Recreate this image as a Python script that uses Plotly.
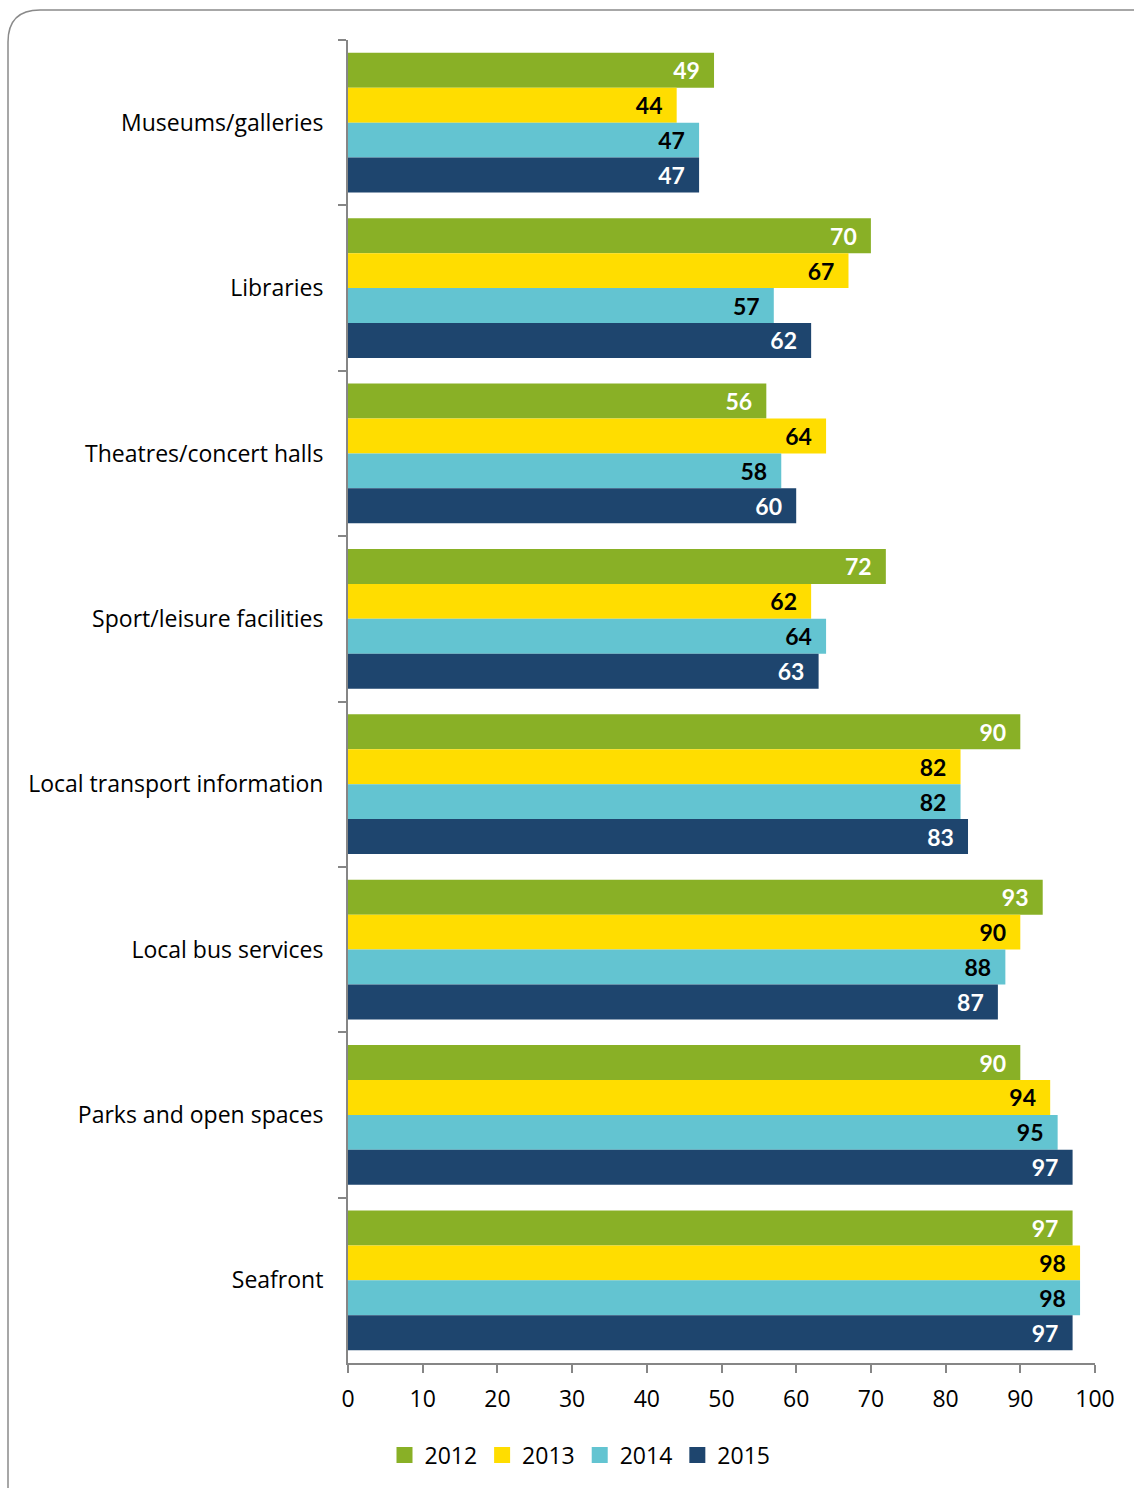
import plotly.graph_objects as go

# Satisfaction with local services (%), by year
categories = [
    "Museums/galleries",
    "Libraries",
    "Theatres/concert halls",
    "Sport/leisure facilities",
    "Local transport information",
    "Local bus services",
    "Parks and open spaces",
    "Seafront",
]
years = ["2012", "2013", "2014", "2015"]
values_2012 = [49, 70, 56, 72, 90, 93, 90, 97]
values_2013 = [44, 67, 64, 62, 82, 90, 94, 98]
values_2014 = [47, 57, 58, 64, 82, 88, 95, 98]
values_2015 = [47, 62, 60, 63, 83, 87, 97, 97]
x_ticks = [0, 10, 20, 30, 40, 50, 60, 70, 80, 90, 100]

series = [values_2012, values_2013, values_2014, values_2015]
bar_colors = ["#89B026", "#FFDD00", "#63C4D1", "#1E456E"]
label_colors = ["#FFFFFF", "#000000", "#000000", "#FFFFFF"]

FONT = "Open Sans, Calibri, Carlito, sans-serif"
LABEL_FONT = "Lato, Calibri, Carlito, sans-serif"

fig = go.Figure()
for year, vals, col, lcol in zip(years, series, bar_colors, label_colors):
    fig.add_trace(go.Bar(
        name=year,
        y=categories,
        x=vals,
        orientation="h",
        marker=dict(color=col, line=dict(width=0)),
        text=vals,
        texttemplate="%{x}&nbsp;&nbsp;",
        textposition="inside",
        insidetextanchor="end",
        textangle=0,
        textfont=dict(family=LABEL_FONT, size=23, color=lcol, weight="bold"),
        cliponaxis=False,
        hoverinfo="skip",
        showlegend=False,
    ))

# legend entries drawn as square swatches
for year, col in zip(years, bar_colors):
    fig.add_trace(go.Scatter(
        name=year,
        x=[None],
        y=[None],
        mode="markers",
        marker=dict(symbol="square", size=16, color=col),
        hoverinfo="skip",
        showlegend=True,
    ))

# plot-area geometry in pixels, used to place the outer rounded frame
W, H = 1134, 1488
ml, mr, mt, mb = 348, 39, 40, 125
pw, ph = W - ml - mr, H - mt - mb

def px(x):
    return (x - ml) / pw

def py(y):
    return (H - mb - y) / ph

r = 32
frame = (
    f"M {px(8)},{py(1500)} "
    f"L {px(8)},{py(10 + r)} "
    f"Q {px(8)},{py(10)} {px(8 + r)},{py(10)} "
    f"L {px(1150)},{py(10)}"
)

fig.update_layout(
    width=W,
    height=H,
    margin=dict(l=ml, r=mr, t=mt, b=mb, pad=0),
    paper_bgcolor="white",
    plot_bgcolor="white",
    barmode="group",
    bargap=0.155,
    bargroupgap=0,
    font=dict(family=FONT, size=23, color="#000000"),
    showlegend=True,
    legend=dict(
        orientation="h",
        x=px(580), xanchor="center",
        y=py(1455), yanchor="middle",
        font=dict(family=FONT, size=23, color="#000000"),
        itemwidth=30,
        tracegroupgap=0,
        traceorder="normal",
    ),
    shapes=[dict(
        type="path", xref="paper", yref="paper", path=frame,
        line=dict(color="#8A8A8A", width=1.5), layer="below",
    )],
)

fig.update_xaxes(
    range=[0, 100],
    tickvals=x_ticks,
    ticktext=[str(t) for t in x_ticks],
    showgrid=False,
    zeroline=False,
    showline=True,
    linecolor="#868686",
    linewidth=2,
    ticks="outside",
    ticklen=8,
    tickwidth=2,
    tickcolor="#868686",
    tickfont=dict(family=FONT, size=23, color="#000000"),
    ticklabelstandoff=6,
)
fig.update_yaxes(
    autorange="reversed",
    showgrid=False,
    showline=True,
    linecolor="#868686",
    linewidth=2,
    ticks="outside",
    tickson="boundaries",
    ticklen=8,
    tickwidth=2,
    tickcolor="#868686",
    tickfont=dict(family=FONT, size=23, color="#000000"),
    ticklabelstandoff=18,
)

fig.write_html("out.html")
